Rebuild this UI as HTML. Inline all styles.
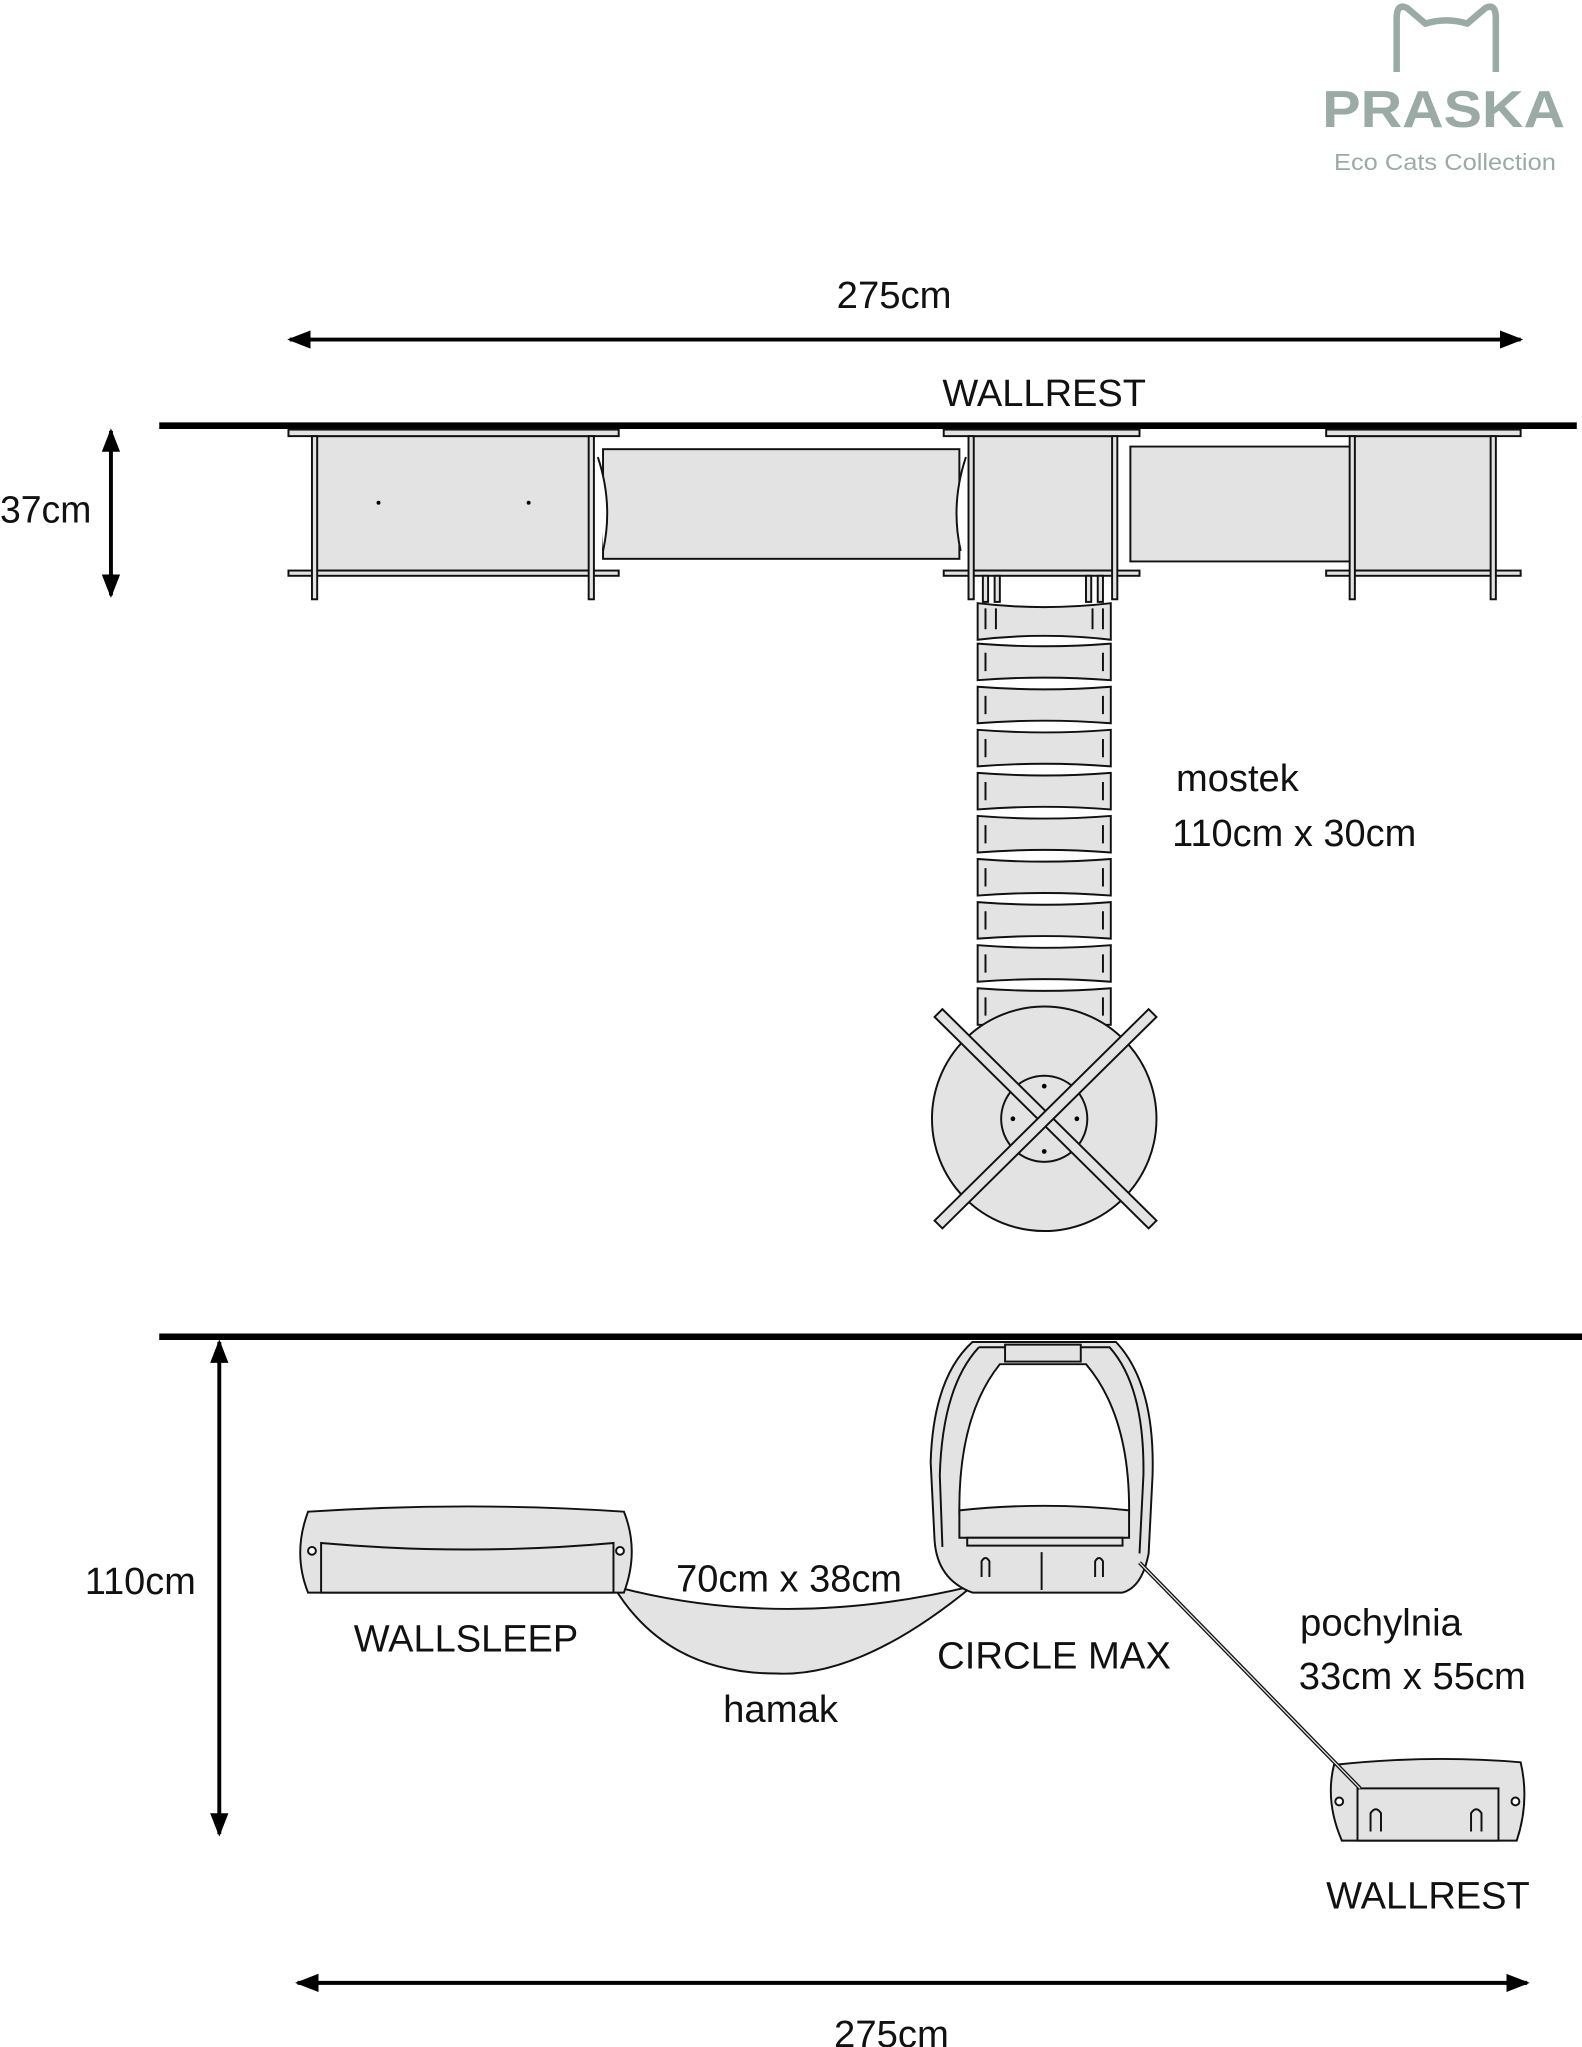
<!DOCTYPE html>
<html><head><meta charset="utf-8"><style>
html,body{margin:0;padding:0;background:#fff;}
svg{display:block}
text{font-family:"Liberation Sans",sans-serif;fill:#111}
</style></head><body>
<svg width="1582" height="2047" viewBox="0 0 1212 1568" xmlns="http://www.w3.org/2000/svg">
<defs>
<marker id="ah" markerWidth="18" markerHeight="14" refX="16" refY="7" orient="auto-start-reverse" markerUnits="userSpaceOnUse" viewBox="0 0 18 14"><path d="M0,0 L18,7 L0,14 z" fill="#000"/></marker>
</defs>
<!-- logo -->
<path d="M1070,55 L1070,14 Q1070,2 1078,6 L1092,18 Q1108,13 1124,18 L1138,6 Q1146,2 1146,14 L1146,55" fill="none" stroke="#9aaba6" stroke-width="5" stroke-linejoin="round"/>
<text x="1106" y="97" font-size="40" font-weight="bold" text-anchor="middle" textLength="186" lengthAdjust="spacingAndGlyphs" style="fill:#9aaba6">PRASKA</text>
<text x="1107" y="130" font-size="18" text-anchor="middle" textLength="170" lengthAdjust="spacingAndGlyphs" style="fill:#9aaba6">Eco Cats Collection</text>

<!-- top dims -->
<line x1="222" y1="260" x2="1165" y2="260" stroke="#000" stroke-width="3" marker-start="url(#ah)" marker-end="url(#ah)"/>
<g font-size="29" lengthAdjust="spacingAndGlyphs">
<text x="641" y="236" font-size="29" textLength="88" lengthAdjust="spacingAndGlyphs">275cm</text>
<text x="722" y="311" font-size="29" textLength="156" lengthAdjust="spacingAndGlyphs">WALLREST</text>
<text x="0" y="400" font-size="29" textLength="70" lengthAdjust="spacingAndGlyphs">37cm</text>
<text x="901" y="606" font-size="29" textLength="94" lengthAdjust="spacingAndGlyphs">mostek</text>
<text x="898" y="648" font-size="29" textLength="187" lengthAdjust="spacingAndGlyphs">110cm x 30cm</text>
<text x="65" y="1221" font-size="29" textLength="85" lengthAdjust="spacingAndGlyphs">110cm</text>
<text x="518" y="1219" font-size="29" textLength="173" lengthAdjust="spacingAndGlyphs">70cm x 38cm</text>
<text x="271" y="1265" font-size="29" textLength="172" lengthAdjust="spacingAndGlyphs">WALLSLEEP</text>
<text x="718" y="1278" font-size="29" textLength="179" lengthAdjust="spacingAndGlyphs">CIRCLE MAX</text>
<text x="554" y="1319" font-size="29" textLength="88" lengthAdjust="spacingAndGlyphs">hamak</text>
<text x="996" y="1253" font-size="29" textLength="124" lengthAdjust="spacingAndGlyphs">pochylnia</text>
<text x="995" y="1294" font-size="29" textLength="174" lengthAdjust="spacingAndGlyphs">33cm x 55cm</text>
<text x="1016" y="1462" font-size="29" textLength="156" lengthAdjust="spacingAndGlyphs">WALLREST</text>
<text x="639" y="1568" font-size="29" textLength="88" lengthAdjust="spacingAndGlyphs">275cm</text>
</g>
<line x1="122" y1="326" x2="1208" y2="326" stroke="#000" stroke-width="5"/>
<line x1="85" y1="330" x2="85" y2="456" stroke="#000" stroke-width="3" marker-start="url(#ah)" marker-end="url(#ah)"/>

<g stroke="#111" stroke-width="1.5" fill="#e3e3e3">
<rect x="240" y="334" width="214" height="103"/>
<rect x="221" y="329" width="253" height="5"/>
<rect x="221" y="437" width="253" height="4"/>
<rect x="239" y="334" width="4" height="125"/>
<rect x="451" y="334" width="4" height="125"/>
<rect x="462" y="344" width="273" height="84"/>
<path d="M458,350 Q470,386 462,422" fill="#fff"/>
<path d="M740,350 Q728,386 736,422" fill="#fff"/>
<rect x="743" y="334" width="112" height="103"/>
<rect x="723" y="329" width="150" height="5"/>
<rect x="723" y="437" width="150" height="4"/>
<rect x="742" y="334" width="4" height="125"/>
<rect x="852" y="334" width="4" height="125"/>
<path d="M866,342 L1042,342 L1042,430 L866,430 z"/>
<rect x="1036" y="334" width="109" height="103"/>
<rect x="1016" y="329" width="149" height="5"/>
<rect x="1016" y="437" width="149" height="4"/>
<rect x="1034" y="334" width="4" height="125"/>
<rect x="1142" y="334" width="4" height="125"/>
</g>
<circle cx="290" cy="385" r="1.5" fill="#000"/><circle cx="405" cy="385" r="1.5" fill="#000"/>

<!-- mostek -->
<g stroke="#111" stroke-width="1.5" fill="#e3e3e3">
<rect x="753" y="441" width="4" height="20"/><rect x="762" y="441" width="4" height="20"/>
<rect x="832" y="441" width="4" height="20"/><rect x="841" y="441" width="4" height="20"/>
<path d="M749,462 Q800,468 851,462 L851,490 Q800,484 749,490 z"/>
<path d="M749,493 Q800,497 851,493 L851,521 Q800,517 749,521 z"/>
<path d="M749,526 Q800,530 851,526 L851,554 Q800,550 749,554 z"/>
<path d="M749,559 Q800,563 851,559 L851,587 Q800,583 749,587 z"/>
<path d="M749,592 Q800,596 851,592 L851,620 Q800,616 749,620 z"/>
<path d="M749,625 Q800,629 851,625 L851,653 Q800,649 749,653 z"/>
<path d="M749,658 Q800,662 851,658 L851,686 Q800,682 749,686 z"/>
<path d="M749,691 Q800,695 851,691 L851,719 Q800,715 749,719 z"/>
<path d="M749,724 Q800,728 851,724 L851,752 Q800,748 749,752 z"/>
<path d="M749,757 Q800,761 851,757 L851,785 L749,785 z"/>
<circle cx="800" cy="857" r="86"/>
<circle cx="800" cy="857" r="33"/>
</g>
<g stroke="#111" stroke-width="1.5" fill="none">
<path d="M755,500v14M845,500v14M755,533v14M845,533v14M755,566v14M845,566v14M755,599v14M845,599v14M755,632v14M845,632v14M755,665v14M845,665v14M755,698v14M845,698v14M755,731v14M845,731v14M755,764v14M845,764v14M755,466v16M763,466v16M837,466v16M845,466v16"/>
</g>
<g fill="#e3e3e3" stroke="#111" stroke-width="1.5">
<polygon points="716,779 722,773 886,935 880,941"/>
<polygon points="880,773 886,779 722,941 716,935"/>
</g>
<g fill="#000"><circle cx="800" cy="832" r="1.8"/><circle cx="800" cy="882" r="1.8"/><circle cx="776" cy="857" r="1.8"/><circle cx="825" cy="857" r="1.8"/></g>

<!-- bottom -->
<line x1="122" y1="1024" x2="1212" y2="1024" stroke="#000" stroke-width="5"/>
<line x1="168" y1="1028" x2="168" y2="1405" stroke="#000" stroke-width="3" marker-start="url(#ah)" marker-end="url(#ah)"/>

<g stroke="#111" stroke-width="1.5" fill="#e3e3e3">
<path d="M470,1215 Q600,1250 745,1215 Q660,1285 595,1282 Q510,1282 470,1215 z"/>
<path d="M236,1158 Q360,1150 478,1158 Q490,1188 478,1220 L236,1220 Q224,1190 236,1158 z"/>
<path d="M246,1182 Q360,1192 470,1182 L470,1220 L246,1220 z"/>
<path d="M745,1028 L855,1028 Q885,1060 883,1130 L880,1190 Q875,1216 860,1220 L745,1220 Q718,1210 716,1180 L713,1120 Q715,1055 745,1028 z"/>
<path d="M750,1032 L850,1032 Q877,1062 876,1130 L873,1190" fill="none"/>
<path d="M750,1032 Q722,1062 720,1130 L722,1185" fill="none"/>
<path d="M770,1030 L828,1030 L828,1043 L770,1043 z"/>
<path d="M766,1045 L832,1045 Q866,1085 865,1160 L735,1160 Q734,1085 766,1045 z" fill="#fff"/>
<path d="M735,1157 Q800,1150 865,1157 L865,1178 L735,1178 z"/>
<path d="M741,1178 L860,1178 L860,1184 L741,1184 z"/>
<line x1="798" y1="1189" x2="798" y2="1218"/>
<path d="M752,1208v-12q3,-5 6,0v12M839,1208v-12q3,-5 6,0v12" fill="none"/>
<path d="M1022,1352 Q1095,1344 1165,1350 Q1172,1380 1162,1410 L1028,1410 Q1015,1380 1022,1352 z"/>
<path d="M1040,1370 L1148,1370 L1148,1410 L1040,1410 z"/>
<path d="M1050,1403v-14q4,-6 8,0v14M1127,1403v-14q4,-6 8,0v14" fill="none"/>
<circle cx="1026" cy="1380" r="3" fill="#fff"/><circle cx="1161" cy="1380" r="3" fill="#fff"/>
<circle cx="239" cy="1188" r="3" fill="#fff"/><circle cx="475" cy="1188" r="3" fill="#fff"/>
</g>
<line x1="873" y1="1197" x2="1042" y2="1370" stroke="#111" stroke-width="3"/>
<line x1="873" y1="1197" x2="1042" y2="1370" stroke="#e3e3e3" stroke-width="1"/>

<line x1="228" y1="1519" x2="1170" y2="1519" stroke="#000" stroke-width="3" marker-start="url(#ah)" marker-end="url(#ah)"/>
</svg>
</body></html>
